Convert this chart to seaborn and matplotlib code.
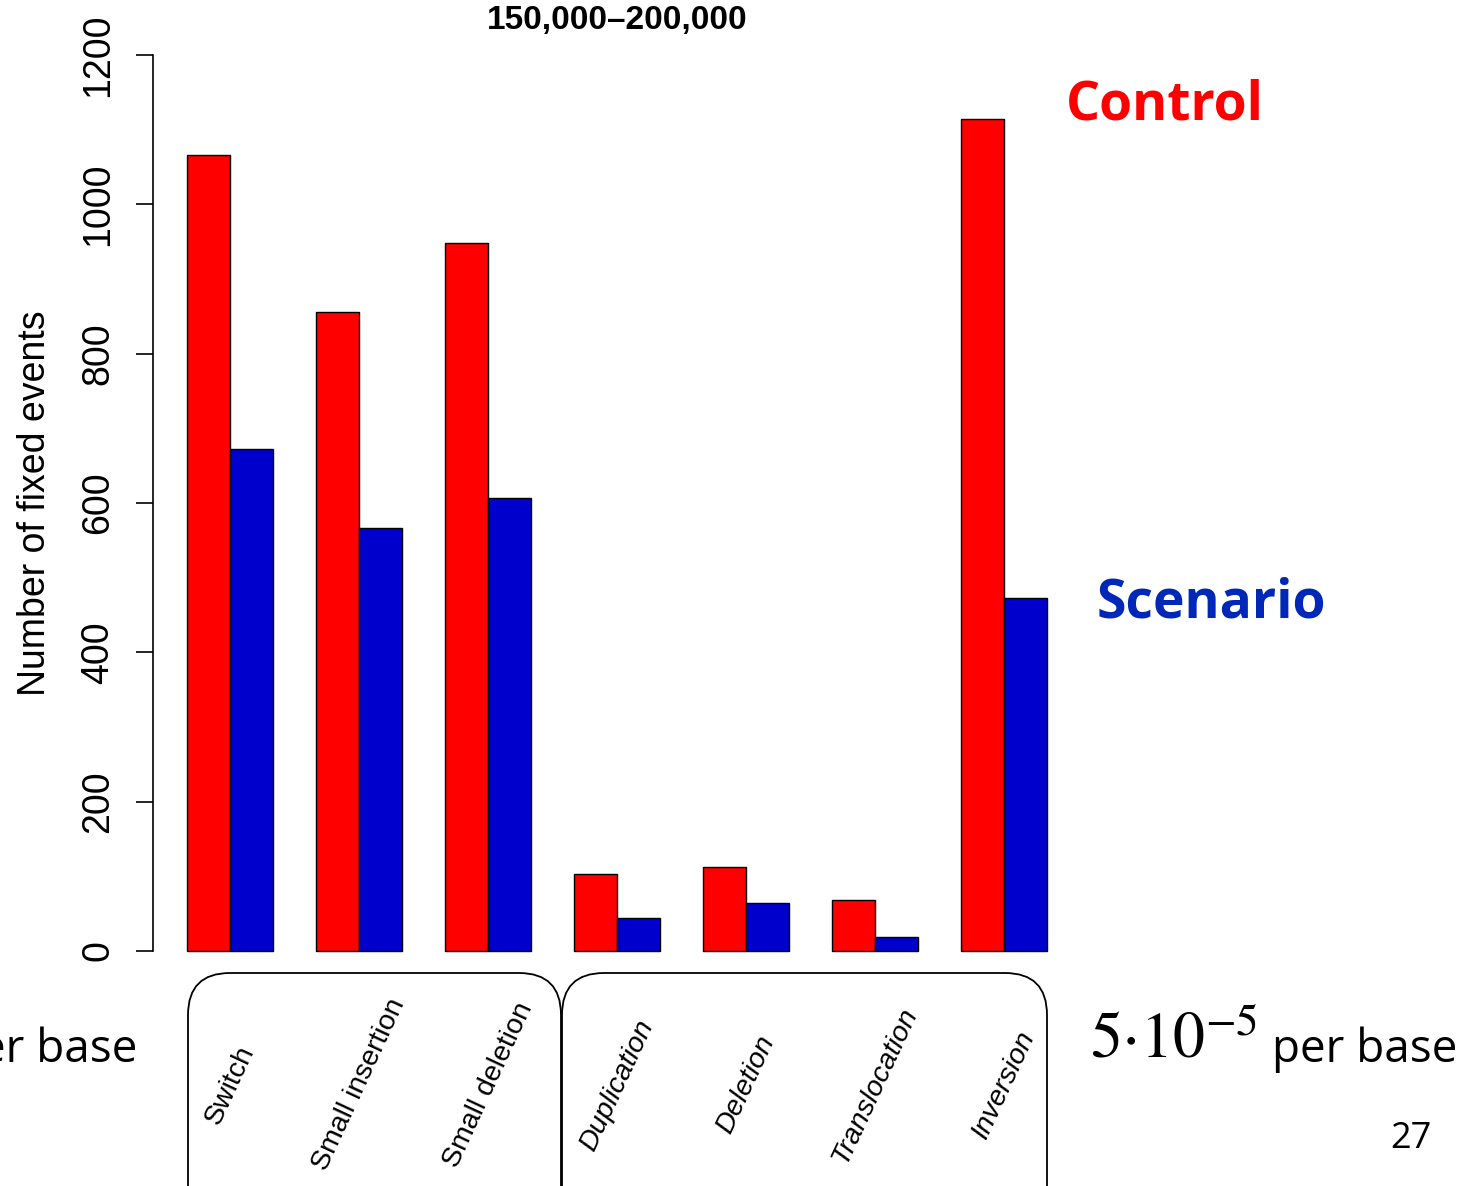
import numpy as np
import pandas as pd
import matplotlib
matplotlib.use("Agg")
import matplotlib.pyplot as plt
from matplotlib.patches import FancyBboxPatch
import seaborn as sns

# Data
categories = ['Switch', 'Small insertion', 'Small deletion', 'Duplication',
              'Deletion', 'Translocation', 'Inversion']
control = [1066, 856, 948, 103, 112, 68, 1114]
scenario = [672, 566, 607, 44, 64, 19, 473]
groups = ['Control', 'Scenario']
yticks = [0, 200, 400, 600, 800, 1000, 1200]

df = pd.DataFrame({
    'category': categories * 2,
    'group': ['Control'] * len(categories) + ['Scenario'] * len(categories),
    'value': control + scenario,
})

sns.set_style('white')
plt.rcParams['font.family'] = ['Liberation Sans', 'DejaVu Sans']
plt.rcParams['mathtext.fontset'] = 'stix'
for k in ['text.color', 'axes.labelcolor', 'xtick.color', 'ytick.color']:
    plt.rcParams[k] = 'black'

W, H = 1470, 1186
fig = plt.figure(figsize=(W / 100, H / 100), dpi=100)

# axes placed in pixel terms (R-like usr range)
x0, x1 = 152.6, 1081.4
ytop, ybot = 19.2, 986.8
ax = fig.add_axes([x0 / W, 1 - ybot / H, (x1 - x0) / W, (ybot - ytop) / H])

sns.barplot(data=df, x='category', y='value', hue='group', order=categories,
            hue_order=groups, palette={'Control': '#FF0000', 'Scenario': '#0000CC'},
            saturation=1, width=2 / 3, edgecolor='black', linewidth=1.0,
            legend=False, ax=ax)

ax.set_xlim(-0.6, 6.6)
ax.set_ylim(-48, 1248)
ax.set_xticks([])
ax.set_xlabel('')
ax.set_yticks(yticks)
ax.set_yticklabels([str(t) for t in yticks], rotation=90, va='center', fontsize=27)
ax.tick_params(axis='y', length=12, width=1.2, pad=14, left=True, color='black')
ax.set_ylabel('Number of fixed events', fontsize=27, labelpad=20)
for s in ['top', 'right', 'bottom']:
    ax.spines[s].set_visible(False)
ax.spines['left'].set_bounds(0, 1200)
ax.spines['left'].set_linewidth(1.2)
ax.spines['left'].set_color('black')

# title sits in the narrow band above the plot
fig.text(617 / W, 1 - 21 / H, '150,000\u2013200,000', fontsize=24,
         fontweight='bold', ha='center', va='center')

# rounded boxes around category labels
def px_box(xa, xb, ya, yb, r=42):
    return FancyBboxPatch((xa / W, 1 - yb / H), (xb - xa) / W, (yb - ya) / H,
                          boxstyle='round,pad=0,rounding_size=%f' % (r / W),
                          transform=fig.transFigure, fill=False,
                          edgecolor='black', linewidth=1.3,
                          mutation_aspect=W / H)

fig.patches.append(px_box(188, 561, 973, 1240))
fig.patches.append(px_box(562, 1047, 973, 1240))

# category labels, rotated, centred at each group
for i, cat in enumerate(categories):
    xd = ax.transData.transform((i, 0))[0]
    style = 'normal' if i < 3 else 'italic'
    fig.text(xd / W, 1 - 1085 / H, cat, rotation=65, ha='center', va='center',
             fontsize=20.5, style=style)

# side annotations
fig.text(1066 / W, 1 - 105 / H, 'Control', color='#FF0000', fontsize=38.5,
         fontweight='bold', family='Open Sans', va='center', ha='left')
fig.text(1097 / W, 1 - 604 / H, 'Scenario', color='#0028B8', fontsize=38.5,
         fontweight='bold', family='Open Sans', va='center', ha='left')
fig.text(137 / W, 1 - 1062 / H, 'per base', fontsize=33, family='Open Sans',
         ha='right', va='baseline')
fig.text(1090 / W, 1 - 1058 / H, r'$5{\cdot}10^{-5}$', fontsize=46,
         ha='left', va='baseline')
fig.text(1457 / W, 1 - 1062 / H, 'per base', fontsize=33, family='Open Sans',
         ha='right', va='baseline')
fig.text(1432 / W, 1 - 1148 / H, '27', fontsize=26, family='Open Sans',
         ha='right', va='baseline')

fig.savefig('out.png', dpi=100, facecolor='white')
